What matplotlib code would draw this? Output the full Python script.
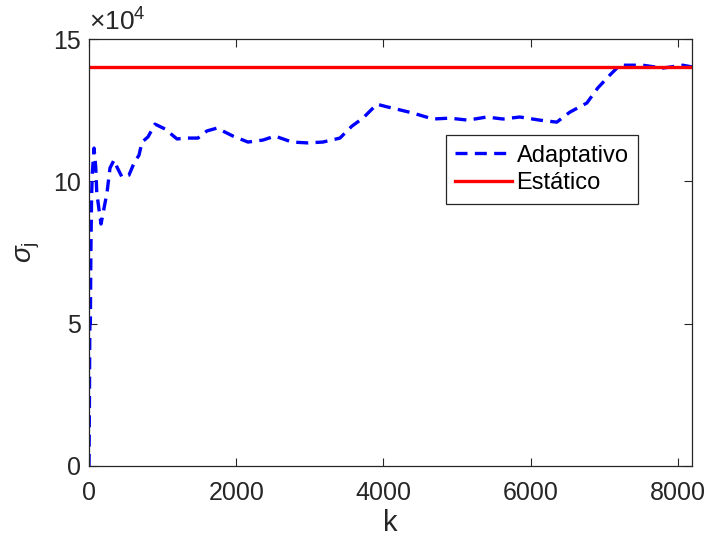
import matplotlib
matplotlib.use("Agg")
import matplotlib.pyplot as plt
from matplotlib.ticker import FixedLocator, FuncFormatter

plt.rcParams['font.family'] = ['Liberation Sans', 'DejaVu Sans']
plt.rcParams['mathtext.fontset'] = 'custom'
plt.rcParams['mathtext.rm'] = 'Liberation Sans'
plt.rcParams['mathtext.it'] = 'Liberation Sans:italic'

# Iteration index k and the adaptive sigma_j estimate
k_adapt = [0, 5, 10, 14, 18, 25, 35, 45, 68, 91, 105, 136, 163, 204, 244, 285,
           340, 380, 448, 543, 611, 679, 720, 801, 896, 1032, 1195, 1331, 1480,
           1602, 1738, 1956, 2159, 2363, 2526, 2757, 2974, 3178, 3409, 3572,
           3721, 3911, 4060, 4128, 4400, 4672, 4902, 5147, 5405, 5622, 5853,
           6125, 6355, 6532, 6763, 6912, 7075, 7211, 7523, 7795, 8067, 8192]
sigma_adapt = [0, 20000, 46000, 53000, 50000, 75000, 95000, 103000, 111700,
               105000, 96000, 90000, 85000, 90600, 96000, 104700, 107500,
               105000, 101500, 102200, 106400, 109200, 113800, 115600, 120100,
               118400, 114900, 115200, 115200, 117700, 118700, 115900, 113800,
               114500, 115900, 113800, 113500, 113800, 115200, 119400, 122200,
               127100, 126100, 125700, 124000, 121900, 122200, 121500, 122600,
               121900, 122600, 121500, 120800, 124300, 127500, 132800, 137300,
               140800, 140800, 139800, 140800, 140200]

# Fixed (static) sigma over the same range
k_static = [0, 8192]
sigma_static = [140200, 140200]

y_ticks = [0, 50000, 100000, 150000]
x_ticks = [0, 2000, 4000, 6000, 8000]

fig = plt.figure(figsize=(7.1, 5.45), dpi=100)
ax = fig.add_axes([0.1254, 0.145, 0.8492, 0.7834])

text_col = '#262626'
ax.plot(k_adapt, sigma_adapt, color=(0, 0, 1), lw=2.4,
        linestyle=(0, (3.6, 2.2)), label='Adaptativo')
ax.plot(k_static, sigma_static, color=(1, 0, 0), lw=2.4, label='Estático')

ax.set_xlim(0, 8192)
ax.set_ylim(0, 150000)
ax.xaxis.set_major_locator(FixedLocator(x_ticks))
ax.yaxis.set_major_locator(FixedLocator(y_ticks))
ax.yaxis.set_major_formatter(FuncFormatter(lambda v, p: f"{v / 1e4:g}"))

ax.tick_params(direction='in', length=6, width=0.8, top=True, right=True,
               labelsize=18, colors=text_col)
ax.tick_params(axis='x', pad=11)
ax.tick_params(axis='y', pad=6)
for s in ax.spines.values():
    s.set_color(text_col)
    s.set_linewidth(0.9)

ax.set_xlabel('k', fontsize=21, color=text_col, labelpad=3)
ax.set_ylabel(r'$\sigma_\mathrm{j}$', fontsize=20, color=text_col, labelpad=8)

ax.text(0.0, 1.008, r'$\times\mathrm{10}^{\mathrm{4}}$', transform=ax.transAxes,
        fontsize=19, color=text_col, ha='left', va='bottom')

leg = ax.legend(loc='upper right', bbox_to_anchor=(0.9104, 0.775),
                borderaxespad=0, fontsize=17, handlelength=2.4,
                handletextpad=0.2, borderpad=0.4, labelspacing=0.25,
                fancybox=False, framealpha=1)
leg.get_frame().set_edgecolor(text_col)
leg.get_frame().set_linewidth(0.9)
for t in leg.get_texts():
    t.set_color('black')

fig.savefig('out.png', dpi=100)
